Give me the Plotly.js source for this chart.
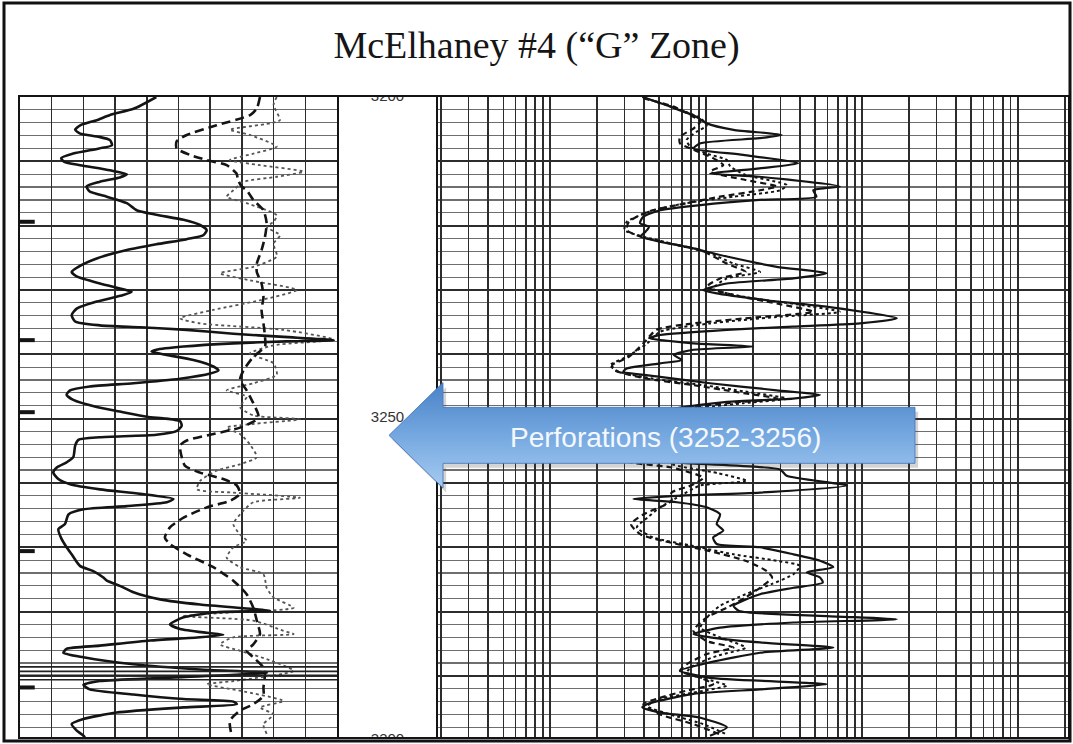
<!DOCTYPE html>
<html>
<head>
<meta charset="utf-8">
<script src="https://cdn.plot.ly/plotly-3.0.1.min.js"></script>
<style>
  html, body { margin: 0; padding: 0; background: #fff; }
  #log { width: 1073px; height: 744px; }
</style>
</head>
<body>
<div id="log"></div>
<script>
// ---------- depth scale ----------
const depthLabels = [3200, 3250, 3300];

// ---------- left track (linear, 0-100, ten divisions) ----------
// solid curve
const leftSolidDepth = [3200.0,3201.8,3202.8,3203.6,3204.4,3205.1,3205.7,3206.2,3206.7,3207.5,3208.0,3208.8,3209.5,3210.1,3210.6,3211.4,3212.0,3212.5,3213.2,3213.9,3214.7,3215.5,3216.5,3217.6,3218.3,3219.1,3219.9,3220.7,3221.5,3222.1,3222.9,3223.8,3225.1,3226.4,3227.2,3227.9,3229.0,3229.9,3230.3,3230.8,3231.8,3232.9,3233.9,3234.9,3235.5,3235.8,3236.2,3236.8,3237.3,3237.8,3238.0,3238.3,3238.8,3239.3,3239.6,3240.1,3240.9,3241.9,3242.5,3243.0,3243.8,3244.5,3245.0,3245.6,3246.3,3247.1,3248.2,3248.9,3249.7,3250.0,3250.4,3251.1,3251.9,3252.5,3252.9,3253.3,3254.2,3256.0,3256.8,3257.6,3258.4,3259.4,3260.2,3261.0,3261.7,3262.5,3263.0,3263.6,3264.1,3264.9,3266.4,3267.2,3268.7,3270.0,3271.1,3272.9,3273.7,3274.7,3275.2,3276.0,3277.0,3278.1,3278.9,3279.6,3279.9,3280.1,3280.9,3282.0,3282.7,3283.3,3283.6,3284.0,3284.5,3285.3,3285.8,3286.4,3287.1,3288.2,3289.0,3289.5,3290.3,3290.8,3291.4,3292.1,3292.9,3293.6,3294.0,3294.4,3294.9,3295.7,3296.7,3297.5,3298.5,3299.3,3300.0];
const leftSolidValue = [43,36,28.4,24.2,19,17.4,19,25,28.4,29,25,16.8,13,14,19,28.4,33.7,31.5,25,21,22,27.4,33.7,36.8,43,51.6,56.8,58.9,57.8,52.6,43,33.7,24.2,18.4,16.3,17.9,25.2,32.6,35.2,32.6,24.2,17.9,16.3,17.4,25.2,37.9,52.6,67.3,83.2,99,84,67.3,51.6,43,41.5,46.3,54.7,61,62.6,60,50.5,35.8,22,15.8,14.7,16.8,24.2,31.5,40,46,50.5,51,49.5,43,25.2,18.4,17.4,16.8,14.7,11.6,10.5,12.1,15.8,25.2,37.9,48.4,46.3,33.7,20,15.3,14.2,12.1,13.1,14.7,16.3,18.9,23.1,26.3,27.4,31.5,35.8,44.2,56.8,73.6,78.9,62,51.6,47.3,50.5,58.9,64.1,56.8,41,25.2,14.7,13.7,20,35.8,56.8,77.9,46.3,25.2,20,22,35.8,51.6,67.3,68.4,51.6,30.5,20,16.3,17.9,20,21];

// dashed curve
const leftDashDepth = [3200.0,3201.8,3202.8,3204.4,3205.9,3206.9,3208.0,3209.0,3209.8,3210.6,3211.9,3212.9,3213.9,3214.5,3216.0,3217.6,3219.6,3221.7,3223.8,3225.9,3227.2,3229.0,3231.1,3233.1,3235.2,3237.3,3238.8,3240.4,3242.5,3244.0,3245.6,3247.6,3249.5,3250.3,3251.4,3252.4,3253.4,3254.2,3257.3,3258.4,3259.4,3260.4,3261.7,3262.8,3263.8,3265.4,3266.9,3268.5,3269.5,3271.1,3273.1,3275.2,3277.3,3279.4,3281.4,3283.5,3285.1,3286.1,3287.1,3288.7,3289.7,3291.8,3293.1,3294.4,3295.4,3297.0,3299.1];
const leftDashValue = [75.7,74.7,72.6,62,52.6,49.4,49.4,53.6,58.9,65.2,68.3,68.8,69.9,71.5,73.6,76.8,77.8,77.3,76.2,74.7,74.7,76.2,76.8,76.2,76.8,77.3,77.3,73.6,70.5,69.4,71.5,73.6,75.2,74.2,69.4,61,52.6,50.5,52,56.8,64.1,68.4,69.4,66.2,58.9,51.6,47.3,45.7,47.3,52.6,61,67.3,71.5,73.6,74.7,75.7,73.6,71.5,73.6,76.8,77.3,76.8,76.8,73.6,69.4,66.2,66.7];

// dotted curve
const leftDotDepth = [3200.0,3201.2,3203.6,3204.1,3205.1,3205.9,3207.7,3208.8,3209.8,3210.6,3211.6,3212.4,3213.2,3214.5,3215.5,3216.5,3218.4,3219.4,3220.2,3221.5,3222.8,3224.8,3226.4,3227.4,3228.5,3230.0,3231.6,3233.1,3234.4,3235.2,3236.2,3237.7,3238.6,3239.9,3241.4,3243.2,3244.5,3245.6,3246.6,3248.2,3249.5,3250.1,3251.4,3252.4,3254.0,3256.0,3257.1,3258.1,3259.7,3261.0,3261.5,3262.3,3263.0,3264.3,3266.4,3268.0,3269.0,3270.0,3271.6,3273.1,3274.2,3276.3,3277.8,3279.4,3280.1,3280.7,3281.4,3283.0,3283.5,3284.0,3285.1,3286.1,3287.4,3289.2,3290.8,3291.3,3292.3,3293.9,3294.9,3296.0,3297.5,3299.0];
const leftDotValue = [81,80,82,78.9,66.2,72.5,81,73.6,66.2,75.7,89.4,81,70.5,67.3,65.2,71.5,81,80,77.8,82,80,81,73.6,63.1,72.5,87.3,75.7,61,50.5,56.8,83.1,99,80,72.5,80,81,73.6,65.2,71.5,69.4,73.6,88.3,65.2,69.4,72.5,74.7,69.4,62,56.8,55.8,67.3,88.3,73.6,70.5,67.3,69.4,71.5,67.3,65.2,69.4,76.8,77.8,80,86.3,67.3,51.6,73.6,83.1,86.3,67.3,63.1,69.4,77.8,86.3,67.3,58.9,69.4,83.1,75.7,80,76.8,77.8];

// off-scale wrap-around traces of the solid curve
const wrapDepths = [3288.6, 3289.3, 3289.9, 3290.6];

// small depth ticks along the left edge
const edgeMarkDepths = [3219.4, 3237.8, 3249.0, 3270.6, 3291.8];

// ---------- right track (logarithmic, 0.2-2000) ----------
const rightSolidDepth = [3200.0,3201.5,3203.1,3204.1,3205.1,3205.9,3206.4,3207.2,3208.0,3209.0,3210.3,3211.1,3211.9,3212.4,3213.9,3214.5,3215.5,3216.0,3216.8,3217.6,3218.6,3219.6,3220.2,3220.9,3221.7,3222.5,3223.3,3224.8,3226.4,3227.4,3228.2,3229.0,3230.0,3230.5,3231.6,3232.6,3234.4,3235.2,3235.7,3236.2,3237.0,3237.5,3238.3,3238.8,3239.3,3240.1,3240.9,3241.4,3242.2,3242.7,3243.5,3244.5,3245.6,3246.3,3246.9,3247.4,3248.6,3250.2,3251.8,3253.2,3254.6,3255.8,3256.8,3257.9,3258.9,3260.4,3261.5,3262.0,3262.5,3263.0,3263.8,3264.9,3266.4,3267.4,3268.5,3269.5,3270.0,3271.1,3272.1,3273.1,3273.9,3274.7,3275.5,3276.3,3277.3,3279.1,3279.9,3280.7,3281.2,3281.7,3282.5,3283.5,3284.0,3284.8,3285.6,3286.4,3287.9,3289.2,3290.3,3291.3,3292.1,3292.8,3294.4,3294.9,3295.7,3296.5,3298.0,3299.3];
const rightSolidValue = [3.9,5.9,8.7,10.1,15,30.5,22,9.2,8.3,17.3,39,22,10.6,22,72,48.7,51,22,9.2,5.07,3.96,3.77,4.3,4.1,3.8,5.07,7.5,13.6,28.4,59.4,36.3,13.6,9.6,11.5,24.5,59,167,97,36,13.6,5.07,4.3,8.3,20,8.3,6.2,7,5.07,3.1,2.95,5.07,10.6,28.4,53.8,36,13.6,6,4.5,7,18,40,15,6.8,29.8,32.9,80,22.2,6.5,3.42,6.5,10.1,12.3,11.7,12.9,11.1,11.7,22.2,36.3,53.8,65.5,44.2,53.8,56,36.3,22.2,15,16.3,59.4,167,36.3,12.3,8.3,10.6,22.2,65.5,22.2,10.6,6.8,10.6,59.4,22.2,8.3,4.17,3.9,5.07,9.2,13.6,10.6];

const rightDashDepth = [3200.2,3201.5,3202.8,3203.8,3204.9,3206.2,3207.2,3208.2,3209.5,3210.6,3211.6,3212.9,3213.9,3214.5,3215.5,3216.5,3217.8,3219.4,3220.7,3221.7,3222.8,3223.8,3225.9,3227.2,3228.2,3229.5,3230.8,3232.1,3233.4,3234.2,3235.2,3236.2,3238.3,3240.4,3241.7,3242.5,3243.8,3244.8,3245.8,3246.9,3247.6,3249.0,3251.0,3253.0,3255.0,3256.6,3257.6,3259.2,3260.4,3261.5,3262.8,3264.9,3266.4,3268.0,3269.5,3270.6,3272.1,3273.7,3274.7,3276.3,3277.8,3279.4,3280.9,3283.0,3284.6,3285.6,3286.6,3288.2,3289.2,3290.3,3291.3,3292.3,3293.4,3294.4,3296.0,3297.5,3299.1];
const rightDashValue = [3.96,6.2,7.9,9.2,8.3,6.8,6.8,8.3,11.1,12.9,10.6,17.9,28.4,22.2,12.3,7.5,4.3,3.2,3.1,3.8,5.9,9.2,13.6,17.9,12.3,10.1,15,28.4,48.7,22.2,8.3,4.8,3.96,3.2,2.5,2.6,4.2,8.3,15,28.4,13.6,5,3.5,6,4,3.1,6,9.6,8,6,6.0,3.96,3.3,3.8,6.5,10.6,17.9,24.5,26.5,22.2,17.9,13.6,10.1,8.3,10.1,15,10.1,7.5,6.8,9.2,11.1,7.5,5.07,3.96,5.07,8.3,12.3];

const rightDotDepth = [3200.2,3201.8,3203.3,3204.4,3205.4,3206.7,3207.7,3208.8,3209.8,3210.8,3212.1,3213.7,3214.5,3215.5,3216.5,3217.6,3219.4,3220.7,3221.7,3223.0,3224.3,3225.9,3227.2,3228.2,3229.8,3231.1,3232.3,3233.4,3234.2,3235.2,3236.5,3238.3,3240.4,3241.7,3242.7,3243.8,3244.8,3245.8,3246.9,3247.6,3249.0,3251.0,3253.0,3255.0,3257.0,3258.5,3259.7,3260.4,3262.3,3263.8,3265.4,3266.9,3268.5,3269.8,3271.1,3272.1,3272.9,3274.2,3275.7,3277.3,3279.1,3280.4,3282.5,3284.0,3285.6,3286.9,3288.4,3289.5,3290.8,3291.5,3292.6,3293.6,3294.7,3296.0,3297.5,3299.1];
const rightDotValue = [4.1,6.5,9.2,10.1,8.7,7.5,7.9,10.1,13.6,14.3,17.9,32.9,29.8,15,7.5,4.6,3.1,3,3.96,6.5,10.6,15,22.2,13.6,11.1,17.9,40,72,28.4,10.6,5.07,4.2,3.1,2.42,2.75,4.6,9.6,17.9,32.9,17.3,6,4,8,12,6,12,18.3,9.2,6.5,5.07,4.2,3.6,4.6,8.3,15,28.4,40,36.3,26.5,17.9,12.3,10.6,9.2,12.3,17.9,11.7,8.3,7.5,11.1,13.6,8.3,5.07,4.2,5.9,9.6,13.6];

// ---------- perforation callout ----------
const perfInterval = [3252, 3256];
const perfText = 'Perforations (' + perfInterval[0] + '-' + perfInterval[1] + ')';

// ---------- page geometry ----------
const W = 1073, H = 744;
const M = { l: 20, r: 5, t: 97, b: 7 };
const plotW = W - M.l - M.r, plotH = H - M.t - M.b;
const fx = px => (px - M.l) / plotW;          // page x -> paper x
const fy = py => (H - M.b - py) / plotH;       // page y -> paper y

const depthRange = [3299.5, 3200];             // reversed: depth increases downward
const dLeft = [0, fx(337)];
const dDepth = [fx(337), fx(438)];
const dRight = [fx(438), 1];

const ink = '#141414';
const gridMajor = '#2c2c2c';
const gridMinor = '#6e6e6e';

function trackY(anchor, grid, frame) {
  return {
    anchor: anchor, domain: [0, 1], range: depthRange, fixedrange: true,
    showticklabels: false, ticks: '', zeroline: false,
    showgrid: grid, tick0: 3200, dtick: 10, gridcolor: gridMajor, gridwidth: 2,
    minor: grid ? { dtick: 2, tick0: 3200, showgrid: true, gridcolor: gridMinor, gridwidth: 1.2 } : undefined,
    showline: frame, mirror: frame, linecolor: ink, linewidth: 2
  };
}

const spline = { shape: 'spline', smoothing: 0.6 };

const traces = [
  // left track
  { x: leftDotValue, y: leftDotDepth, xaxis: 'x', yaxis: 'y', mode: 'lines',
    line: Object.assign({ color: '#555', width: 1.8, dash: 'dot' }, spline) },
  { x: leftDashValue, y: leftDashDepth, xaxis: 'x', yaxis: 'y', mode: 'lines',
    line: Object.assign({ color: ink, width: 2.6, dash: '9px,5px' }, spline) },
  { x: leftSolidValue, y: leftSolidDepth, xaxis: 'x', yaxis: 'y', mode: 'lines',
    line: Object.assign({ color: ink, width: 2.6 }, spline) },
  { x: [].concat(...wrapDepths.map(() => [0, 100, null])),
    y: [].concat(...wrapDepths.map(d => [d, d, null])),
    xaxis: 'x', yaxis: 'y', mode: 'lines', line: { color: '#222', width: 1.6 } },
  { x: edgeMarkDepths.map(() => 2), y: edgeMarkDepths, xaxis: 'x', yaxis: 'y',
    mode: 'markers', marker: { symbol: 'line-ew', size: 12, line: { color: ink, width: 4 } } },

  // depth column labels (clipped to the column frame)
  { x: depthLabels.map(() => 0.5), y: depthLabels, xaxis: 'x2', yaxis: 'y2',
    mode: 'text', text: depthLabels.map(String), textposition: 'middle center', cliponaxis: true,
    textfont: { family: 'Liberation Sans, Arial, sans-serif', size: 15, color: '#333' } },

  // right track
  { x: rightDotValue, y: rightDotDepth, xaxis: 'x3', yaxis: 'y3', mode: 'lines',
    line: Object.assign({ color: ink, width: 2, dash: 'dot' }, spline) },
  { x: rightDashValue, y: rightDashDepth, xaxis: 'x3', yaxis: 'y3', mode: 'lines',
    line: Object.assign({ color: ink, width: 2.2, dash: '6px,4px' }, spline) },
  { x: rightSolidValue, y: rightSolidDepth, xaxis: 'x3', yaxis: 'y3', mode: 'lines',
    line: Object.assign({ color: ink, width: 2.2 }, spline) }
];

// perforation arrow, drawn on a full-width overlay subplot
const arrowMid = perfInterval[0] + 0.6;
const bodyHalf = 4.35, headHalf = 8.2;
const ax = { tip: fx(389), base: fx(443), end: fx(915) };
function arrowPath(dx, dy) {
  return {
    x: [ax.tip, ax.base, ax.base, ax.end, ax.end, ax.base, ax.base, ax.tip].map(v => v + dx),
    y: [arrowMid, arrowMid - headHalf, arrowMid - bodyHalf, arrowMid - bodyHalf,
        arrowMid + bodyHalf, arrowMid + bodyHalf, arrowMid + headHalf, arrowMid].map(v => v + dy)
  };
}
const shadow = arrowPath(0.003, 0.7);
traces.push({ x: shadow.x, y: shadow.y, xaxis: 'x4', yaxis: 'y4', mode: 'lines',
  fill: 'toself', fillcolor: 'rgba(60,60,60,0.22)', line: { width: 0 } });
const arrow = arrowPath(0, 0);
traces.push({ x: arrow.x, y: arrow.y, xaxis: 'x4', yaxis: 'y4', mode: 'lines',
  fill: 'toself', fillcolor: '#74a7df',
  fillgradient: { type: 'vertical', colorscale: [[0, '#a6cbf1'], [0.5, '#75a8e0'], [1, '#4a82c8']] },
  line: { color: 'rgba(72,122,190,0.9)', width: 1 } });

const layout = {
  width: W, height: H,
  margin: { l: M.l, r: M.r, t: M.t, b: M.b, pad: 0 },
  paper_bgcolor: '#ffffff', plot_bgcolor: 'rgba(0,0,0,0)',
  showlegend: false,
  title: {
    text: 'McElhaney #4 (\u201CG\u201D Zone)',
    font: { family: 'Liberation Serif, DejaVu Serif, serif', size: 38, color: '#151515' },
    x: 0.5, xref: 'container', xanchor: 'center',
    y: 1 - 45 / H, yref: 'container', yanchor: 'middle'
  },
  xaxis: { domain: dLeft, anchor: 'y', range: [0, 100], tick0: 0, dtick: 10, showgrid: true,
    gridcolor: gridMajor, gridwidth: 1.5, showticklabels: false, ticks: '', zeroline: false,
    showline: true, mirror: true, linecolor: ink, linewidth: 2, fixedrange: true },
  yaxis: trackY('x', true, true),
  xaxis2: { domain: dDepth, anchor: 'y2', range: [0, 1], showgrid: false, showticklabels: false,
    ticks: '', zeroline: false, showline: true, mirror: true, linecolor: ink, linewidth: 2, fixedrange: true },
  yaxis2: trackY('x2', false, false),
  xaxis3: { domain: dRight, anchor: 'y3', type: 'log', range: [Math.log10(0.191), Math.log10(2093)],
    dtick: 'D1', showgrid: true, gridcolor: gridMajor, gridwidth: 1.3, showticklabels: false,
    ticks: '', zeroline: false, showline: true, mirror: true, linecolor: ink, linewidth: 2, fixedrange: true },
  yaxis3: trackY('x3', true, true),
  xaxis4: { domain: [0, 1], anchor: 'y4', range: [0, 1], visible: false, fixedrange: true },
  yaxis4: { domain: [0, 1], anchor: 'x4', range: depthRange, visible: false, fixedrange: true },
  annotations: [{
    xref: 'x4', yref: 'y4', x: fx(665), y: arrowMid + 0.3, text: perfText, showarrow: false,
    xanchor: 'center', yanchor: 'middle',
    font: { family: 'Liberation Sans, Arial, sans-serif', size: 28, color: '#f4f8fd' }
  }],
  shapes: [{
    type: 'rect', xref: 'paper', yref: 'paper',
    x0: fx(4), x1: fx(1070), y0: fy(741), y1: fy(3),
    line: { color: '#111', width: 3 }, fillcolor: 'rgba(0,0,0,0)', layer: 'above'
  }]
};

Plotly.newPlot('log', traces, layout, { staticPlot: true, displayModeBar: false });
</script>
</body>
</html>
